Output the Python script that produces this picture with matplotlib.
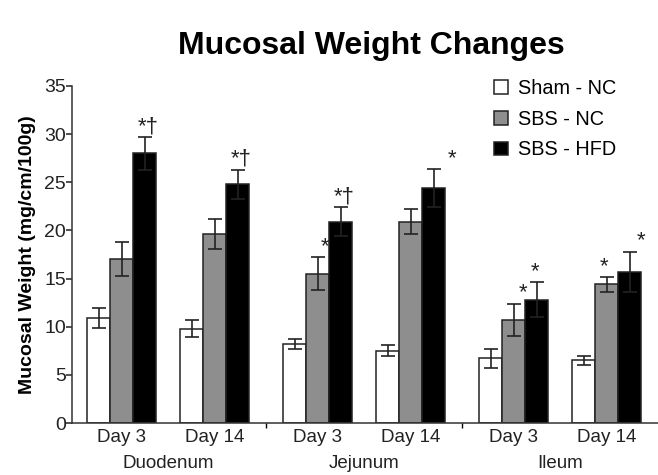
import matplotlib
matplotlib.use("Agg")
import matplotlib.pyplot as plt
from matplotlib.patches import Patch
import numpy as np

plt.rcParams['font.family'] = ['Liberation Sans', 'DejaVu Sans']

organs = ["Duodenum", "Jejunum", "Ileum"]
days = ["Day 3", "Day 14"]
series = ["Sham - NC", "SBS - NC", "SBS - HFD"]

# values ordered: Duo D3, Duo D14, Jej D3, Jej D14, Ile D3, Ile D14
sham_nc = [10.9, 9.8, 8.2, 7.5, 6.7, 6.5]
sham_nc_err = [1.0, 0.9, 0.55, 0.55, 1.0, 0.5]
sbs_nc = [17.0, 19.6, 15.5, 20.9, 10.7, 14.4]
sbs_nc_err = [1.75, 1.55, 1.7, 1.3, 1.7, 0.75]
sbs_hfd = [28.0, 24.8, 20.9, 24.4, 12.8, 15.7]
sbs_hfd_err = [1.7, 1.5, 1.5, 2.0, 1.8, 2.1]

# (group index, series index, label)
annotations = [
    (0, 2, "*\u2020"),
    (1, 2, "*\u2020"),
    (2, 1, "*"),
    (2, 2, "*\u2020"),
    (3, 2, "*"),
    (4, 1, "*"),
    (4, 2, "*"),
    (5, 1, "*"),
    (5, 2, "*"),
]
ann_dx = [0.15, 0.15, 0.3, 0.15, 0.8, 0.4, -0.1, -0.1, 0.5]

fig = plt.figure(figsize=(6.58, 4.75), dpi=100)
ax = fig.add_axes([72/658, 52/475, 586/658, 337/475])

width = 1.0
within = 4.04
between = 4.48
first = 2.17
centers = []
for o in range(len(organs)):
    for d in range(len(days)):
        centers.append(first + o * (within + between) + d * within)
centers = np.array(centers)

colors = ["white", "#8e8e8e", "black"]
vals = [sham_nc, sbs_nc, sbs_hfd]
errs = [sham_nc_err, sbs_nc_err, sbs_hfd_err]
offsets = [-1, 0, 1]
for s in range(3):
    xs = centers + offsets[s] * width
    ax.bar(xs, vals[s], width=width, color=colors[s], edgecolor="#222222",
           linewidth=1.1, zorder=2)
    ax.errorbar(xs, vals[s], yerr=errs[s], fmt="none", ecolor="#222222",
                elinewidth=1.2, capsize=5.2, capthick=1.2, zorder=3)

for (g, s, lab), dx in zip(annotations, ann_dx):
    x = centers[g] + offsets[s] * width + dx
    y = vals[s][g] + errs[s][g] + 0.0
    ax.text(x, y, lab, ha="center", va="bottom", fontsize=16, color="#222222")

ax.set_xlim(0, 586/23)
ax.set_ylim(0, 35)
ax.set_yticks(range(0, 36, 5))
ax.set_xticks(centers)
ax.set_xticklabels(days * 3, fontsize=13.5)
ax.tick_params(axis="x", length=0, pad=4, colors="#222222")
ax.tick_params(axis="y", direction="out", length=4, width=1.1, labelsize=14,
               pad=0.5, colors="#222222")
seps = [(centers[1] + centers[2]) / 2, (centers[3] + centers[4]) / 2]
ax.set_xticks(seps, minor=True)
ax.tick_params(axis="x", which="minor", length=3.5, width=1, direction="out")
for sp in ["top", "right"]:
    ax.spines[sp].set_visible(False)
for sp in ["left", "bottom"]:
    ax.spines[sp].set_linewidth(1.1)
    ax.spines[sp].set_color("#333333")

for o, name in enumerate(organs):
    cx = (centers[2 * o] + centers[2 * o + 1]) / 2
    ax.text(cx, -0.095, name, transform=ax.get_xaxis_transform(),
            ha="center", va="top", fontsize=13.5, color="#222222")

ax.set_ylabel("Mucosal Weight (mg/cm/100g)", fontsize=14, fontweight="bold",
              labelpad=6)
fig.text(0.565, 0.903, "Mucosal Weight Changes", ha="center", va="center",
         fontsize=23, fontweight="bold")

handles = [Patch(facecolor=c, edgecolor="#222222", linewidth=1.1) for c in colors]
leg = ax.legend(handles, series, loc="upper left", bbox_to_anchor=(0.69, 1.075),
                frameon=False, fontsize=14.3, handlelength=0.7, handleheight=0.7,
                handletextpad=0.5, labelspacing=0.6)

fig.savefig("out.png", dpi=100)
